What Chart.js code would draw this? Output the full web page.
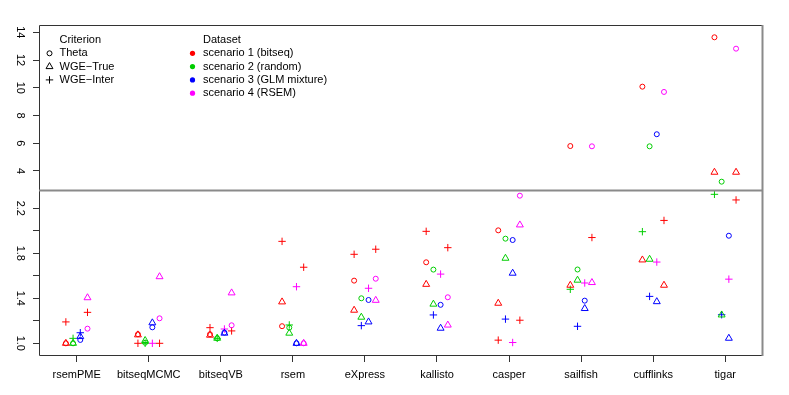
<!DOCTYPE html>
<html><head><meta charset="utf-8">
<script src="https://cdn.jsdelivr.net/npm/chart.js@4/dist/chart.umd.min.js"></script>
<style>html,body{margin:0;padding:0;background:#fff}#wrap{width:789px;height:395px}</style>
</head><body><div id="wrap"><canvas id="c" width="789" height="395"></canvas></div>
<script>
// ---- data ----
const methods = ['rsemPME','bitseqMCMC','bitseqVB','rsem','eXpress','kallisto','casper','sailfish','cufflinks','tigar'];
const scenarios = ['scenario 1 (bitseq)','scenario 2 (random)','scenario 3 (GLM mixture)','scenario 4 (RSEM)'];
const criteria = ['Theta','WGE\u2212True','WGE\u2212Inter'];
const slotOffsets = [-0.15,-0.05,0.05,0.15];   // jitter of the four points within a method

// Theta (circles): value per jitter slot, and scenario of that slot
const thetaBySlot = [
  [1.00, 1.08, 1.08, 1.152, 1.557, 1.72, 2.004, 5.80, 10.08, 13.64],
  [1.00, 1.005, 1.045, 1.139, 1.40, 1.655, 1.93, 1.656, 5.78, 3.23],
  [1.03, 1.142, 1.095, 1.00, 1.385, 1.342, 1.918, 1.379, 6.65, 1.956],
  [1.13, 1.222, 1.16, 1.00, 1.574, 1.409, 2.312, 5.78, 9.70, 12.82]
];
const thetaScenBySlot = [
  [1,1,1,1,1,1,1,1,1,1],[2,2,2,2,2,2,2,2,2,2],[3,3,3,3,3,3,3,3,3,3],[4,4,4,4,4,4,4,4,4,4]
];
// WGE-True (triangles)
const trueBySlot = [
  [1.00, 1.075, 1.072, 1.368, 1.294, 1.524, 1.356, 1.516, 1.741, 3.91],
  [1.00, 1.025, 1.045, 1.09, 1.232, 1.348, 1.756, 1.561, 1.747, 1.252],
  [1.06, 1.182, 1.09, 1.00, 1.19, 1.134, 1.623, 1.309, 1.37, 1.045],
  [1.405, 1.592, 1.448, 1.00, 1.382, 1.162, 2.052, 1.54, 1.516, 3.91]
];
const trueScenBySlot = [
  [1,1,1,1,1,1,1,1,1,1],[2,2,2,2,2,2,2,2,2,2],[3,3,3,3,3,3,3,3,3,3],[4,4,4,4,4,4,4,4,1,1]
];
// WGE-Inter (plus signs)
const interBySlot = [
  [1.19, 1.00, 1.139, 1.906, 1.791, 1.995, 1.028, 1.48, 1.992, 2.324],
  [1.044, 1.00, 1.044, 1.163, 1.157, 1.252, 1.215, 1.151, 1.417, 1.254],
  [1.094, 1.00, 1.127, 1.503, 1.489, 1.615, 1.007, 1.536, 1.722, 1.57],
  [1.275, 1.00, 1.11, 1.676, 1.836, 1.85, 1.205, 1.94, 2.092, 2.274]
];
const interScenBySlot = [
  [1,1,1,1,1,1,1,2,2,2],[2,2,2,2,3,3,3,3,3,3],[3,4,4,4,4,4,4,4,4,4],[1,1,1,1,1,1,1,1,1,1]
];
// axis ticks (split axis: lower panel and upper panel)
const yLowTicks = [1.0,1.2,1.4,1.6,1.8,2.0,2.2];
const yLowLabels = ['1.0','','1.4','','1.8','','2.2'];
const yHighTicks = [4,6,8,10,12,14];
const yHighLabels = ['4','6','8','10','12','14'];

// ---- styles ----
const scenColors = ['#FF0000','#00CD00','#0000FF','#FF00FF'];
const critStyles = [
  {style:'circle', r:2.5},
  {style:'triangle', r:4},
  {style:'cross', r:3.7}
];
const FONT = "'Liberation Sans', Arial, Helvetica, sans-serif";
const LOW_MIN = 0.896, LOW_MAX = 2.358, HIGH_MIN = 2.594, HIGH_MAX = 14.454;

const critData = [[thetaBySlot, thetaScenBySlot],[trueBySlot, trueScenBySlot],[interBySlot, interScenBySlot]];
const datasets = [];
critData.forEach(([vals, scens], c) => {
  for (let s = 1; s <= 4; s++) {
    const low = [], high = [];
    vals.forEach((row, slot) => row.forEach((v, m) => {
      if (scens[slot][m] !== s || v == null) return;
      const pt = {x: m + 1 + slotOffsets[slot], y: v};
      (v > LOW_MAX ? high : low).push(pt);
    }));
    [[low,'y'],[high,'yTop']].forEach(([pts, axis]) => {
      if (!pts.length) return;
      datasets.push({
        label: criteria[c] + ' / ' + scenarios[s-1],
        data: pts, yAxisID: axis, showLine: false,
        pointStyle: critStyles[c].style, pointRadius: critStyles[c].r, pointHoverRadius: critStyles[c].r,
        pointBorderWidth: 1, pointHoverBorderWidth: 1,
        pointBorderColor: scenColors[s-1], pointBackgroundColor: 'rgba(0,0,0,0)',
        borderColor: scenColors[s-1], backgroundColor: 'rgba(0,0,0,0)'
      });
    });
  }
});

const framePlugin = {
  id: 'frame',
  afterDraw(chart) {
    const ctx = chart.ctx, a = chart.chartArea;
    ctx.save();
    ctx.strokeStyle = '#333'; ctx.lineWidth = 1;
    ctx.beginPath();
    ctx.moveTo(a.right + 0.5, a.top - 0.5);
    ctx.lineTo(a.left - 0.5, a.top - 0.5);
    ctx.lineTo(a.left - 0.5, a.bottom + 0.5);
    ctx.lineTo(a.right + 0.5, a.bottom + 0.5);
    ctx.stroke();
    ctx.strokeStyle = '#8a8a8a'; ctx.lineWidth = 2;
    ctx.beginPath(); ctx.moveTo(a.right + 0.5, a.top - 1); ctx.lineTo(a.right + 0.5, a.bottom + 1); ctx.stroke();
    const yb = chart.scales.y.top;
    ctx.beginPath(); ctx.moveTo(a.left - 1, yb); ctx.lineTo(a.right + 1, yb); ctx.stroke();

    // legends
    ctx.fillStyle = '#000'; ctx.strokeStyle = '#000'; ctx.lineWidth = 1;
    ctx.font = '11px ' + FONT; ctx.textBaseline = 'middle'; ctx.textAlign = 'left';
    const lx = a.left + 19.5, sx = a.left + 9.5, hy = a.top + 14, dy = 13.3;
    ctx.fillText('Criterion', lx, hy);
    criteria.forEach((t, i) => {
      const y = hy + dy * (i + 1);
      ctx.fillText(t, lx, y);
      const r = critStyles[i].r;
      ctx.beginPath();
      if (i === 0) ctx.arc(sx, y, r, 0, Math.PI * 2);
      else if (i === 1) { ctx.moveTo(sx, y - r); ctx.lineTo(sx + r * 0.866, y + r / 2); ctx.lineTo(sx - r * 0.866, y + r / 2); ctx.closePath(); }
      else { ctx.moveTo(sx - r, y); ctx.lineTo(sx + r, y); ctx.moveTo(sx, y - r); ctx.lineTo(sx, y + r); }
      ctx.stroke();
    });
    const dx = a.left + 163, dsx = a.left + 152.5;
    ctx.fillStyle = '#000';
    ctx.fillText('Dataset', dx, hy);
    scenarios.forEach((t, i) => {
      const y = hy + dy * (i + 1);
      ctx.fillStyle = '#000';
      ctx.fillText(t, dx, y);
      ctx.fillStyle = scenColors[i];
      ctx.beginPath(); ctx.arc(dsx, y, 2.6, 0, Math.PI * 2); ctx.fill();
    });
    ctx.restore();
  }
};

const tickFont = {family: FONT, size: 11};
new Chart(document.getElementById('c'), {
  type: 'scatter',
  data: {datasets},
  options: {
    responsive: false, animation: false, devicePixelRatio: 1,
    layout: {padding: {top: 26, right: 27, left: 0, bottom: 0}},
    plugins: {legend: {display: false}, tooltip: {enabled: false}},
    events: [],
    scales: {
      x: {
        type: 'linear', position: 'bottom', min: 0.491, max: 10.51,
        afterBuildTicks: s => { s.ticks = methods.map((_, i) => ({value: i + 1})); },
        afterFit: s => { s.height = 40; },
        ticks: {callback: (v, i) => methods[i], font: tickFont, color: '#000', padding: 6, autoSkip: false, maxRotation: 0},
        grid: {drawOnChartArea: false, drawTicks: true, tickLength: 7, tickColor: '#333'},
        border: {display: false}
      },
      y: {
        type: 'linear', position: 'left', stack: 'v', stackWeight: 1, weight: 0,
        min: LOW_MIN, max: LOW_MAX,
        afterBuildTicks: s => { s.ticks = yLowTicks.map(v => ({value: v})); },
        afterFit: s => { s.width = 40; },
        ticks: {callback: (v, i) => yLowLabels[i], font: tickFont, color: '#000', padding: 5.5,
                minRotation: -90, maxRotation: -90, crossAlign: 'center', autoSkip: false},
        grid: {drawOnChartArea: false, drawTicks: true, tickLength: 7, tickColor: '#333'},
        border: {display: false}
      },
      yTop: {
        type: 'linear', position: 'left', stack: 'v', stackWeight: 1, weight: 1,
        min: HIGH_MIN, max: HIGH_MAX,
        afterBuildTicks: s => { s.ticks = yHighTicks.map(v => ({value: v})); },
        afterFit: s => { s.width = 40; },
        ticks: {callback: (v, i) => yHighLabels[i], font: tickFont, color: '#000', padding: 7,
                minRotation: -90, maxRotation: -90, crossAlign: 'center', autoSkip: false},
        grid: {drawOnChartArea: false, drawTicks: true, tickLength: 7, tickColor: '#333'},
        border: {display: false}
      }
    }
  },
  plugins: [framePlugin]
});
</script>
</body></html>
